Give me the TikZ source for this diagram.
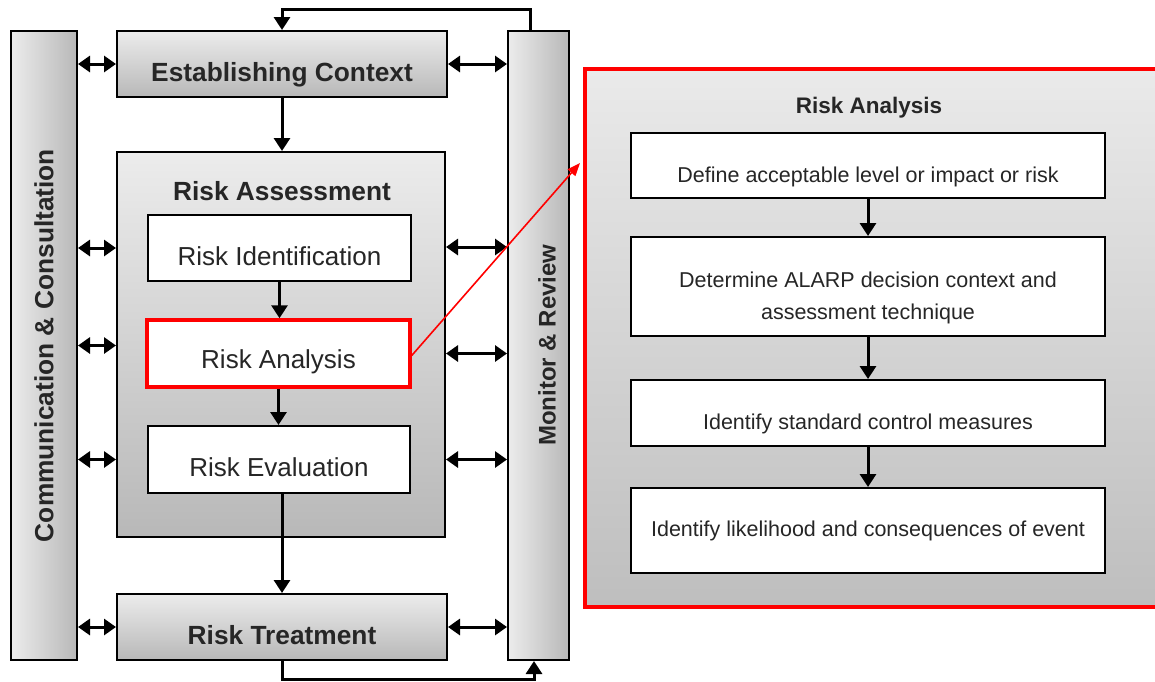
\documentclass[tikz,border=0pt]{standalone}
\usepackage{fontspec}
\setmainfont{Liberation Sans}
\usetikzlibrary{arrows.meta}
\definecolor{txt}{RGB}{38,38,38}
\definecolor{gtop}{RGB}{236,236,236}
\definecolor{gbot}{RGB}{184,184,184}
\definecolor{ptop}{RGB}{234,234,234}
\definecolor{pbot}{RGB}{190,190,190}
\definecolor{redc}{RGB}{255,0,0}
\newcommand{\low}[1]{\raisebox{-8pt}[\height][\depth]{#1}}
\newcommand{\lowb}[1]{\raisebox{-11pt}[\height][\depth]{#1}}
\tikzset{
  box/.style={draw=black, line width=2pt, inner sep=0pt, text=txt},
  gbox/.style={box, top color=gtop, bottom color=gbot},
  bar/.style={box, left color=gtop, right color=gbot},
  wbox/.style={box, fill=white},
  big/.style={font=\fontsize{26.3}{30}\selectfont\bfseries},
  mid/.style={font=\fontsize{26}{30}\selectfont},
  sml/.style={font=\fontsize{21.5}{32}\selectfont},
  arr/.style={line width=3pt, -{Triangle[length=13pt,width=16pt]}},
  dbl/.style={line width=3pt, {Triangle[length=12pt,width=16pt]}-{Triangle[length=12pt,width=16pt]}},
}
\begin{document}
\begin{tikzpicture}[x=1pt,y=-1pt]
\clip (0,0) rectangle (1155,681);
\useasboundingbox (0,0) rectangle (1155,681);
% bars
\node[bar, minimum width=66pt, minimum height=629pt] (cc) at (44,345.5) {};
\node[big, rotate=90, text=txt] (cct) at (cc.center) {Communication \& Consultation};
\node[bar, minimum width=61pt, minimum height=629pt] (mr) at (538.5,345.5) {};
\node[font=\fontsize{24}{28}\selectfont\bfseries, rotate=90, text=txt] (mrt) at (547,345) {Monitor \& Review};
% main column
\node[gbox, big, minimum width=330pt, minimum height=66pt] (ec) at (282,64) {\lowb{Establishing Context}};
\node[gbox, minimum width=328pt, minimum height=385pt] (ra) at (281,344.5) {};
\node[big, text=txt] (rat) at (282,191) {Risk Assessment};
\node[wbox, mid, minimum width=263pt, minimum height=66pt] (ri) at (279.5,248) {\low{Risk Identification}};
\node[wbox, mid, draw=redc, line width=3.5pt, minimum width=263pt, minimum height=67pt] (ran) at (278.5,353.5) {\low{Risk Analysis}};
\node[wbox, mid, minimum width=262pt, minimum height=67pt] (rev) at (279,459.5) {\low{Risk Evaluation}};
\node[gbox, big, minimum width=330pt, minimum height=66pt] (rt) at (282,627) {\low{Risk Treatment}};
% right panel
\node[draw=redc, line width=4pt, top color=ptop, bottom color=pbot, minimum width=590pt, minimum height=538pt, inner sep=0pt] (rp) at (880,338) {};
\node[font=\fontsize{22.5}{26}\selectfont\bfseries, text=txt] (rpt) at (869,108) {Risk Analysis};
\node[wbox, sml, minimum width=474pt, minimum height=65pt] (b1) at (868,165.5) {\lowb{Define acceptable level or impact or risk}};
\node[wbox, sml, minimum width=474pt, minimum height=99pt] (b2) at (868,286.5) {\lowb{\begin{tabular}{@{}c@{}}Determine ALARP decision context and\\[0pt] assessment technique\end{tabular}}};
\node[wbox, sml, minimum width=474pt, minimum height=66pt] (b3) at (868,413) {\lowb{Identify standard control measures}};
\node[wbox, sml, minimum width=474pt, minimum height=85pt] (b4) at (868,530.5) {Identify likelihood and consequences of event};
% vertical arrows
\draw[arr] (ec.south) -- (ec.south |- ra.north);
\draw[arr] (ri.south) -- (ri.south |- ran.north);
\draw[arr] (ran.south) -- (ran.south |- rev.north);
\draw[arr] ([xshift=3pt]rev.south) -- ([xshift=3pt]rev.south |- rt.north);
\draw[arr] (b1.south) -- (b2.north);
\draw[arr] (b2.south) -- (b3.north);
\draw[arr] (b3.south) -- (b4.north);
% feedback loops
\draw[arr] ([xshift=-8.5pt]mr.north) -- ++(0,-21) -| (ec.north);
\draw[arr] (rt.south) -- ++(0,18) -| ([xshift=-4.5pt]mr.south);
% double arrows left
\draw[dbl] (cc.east |- ec.west) -- (ec.west);
\draw[dbl] (cc.east |- ri.west) -- (ra.west |- ri.west);
\draw[dbl] ([yshift=8pt]cc.east |- ran.west) -- ([yshift=8pt]ra.west |- ran.west);
\draw[dbl] (cc.east |- rev.west) -- (ra.west |- rev.west);
\draw[dbl] (cc.east |- rt.west) -- (rt.west);
% double arrows right
\draw[dbl] (ec.east) -- (mr.west |- ec.east);
\draw[dbl] ([yshift=1pt]ra.east |- ri.east) -- ([yshift=1pt]mr.west |- ri.east);
\draw[dbl] (ra.east |- ran.east) -- (mr.west |- ran.east);
\draw[dbl] (ra.east |- rev.east) -- (mr.west |- rev.east);
\draw[dbl] (rt.east) -- (mr.west |- rt.east);
% red pointer
\coordinate (tip) at (580,163);
\draw[draw=redc, line width=1.6pt, -{Triangle[length=13pt,width=10pt]}] ([yshift=-2pt]ran.east) -- (tip);
\end{tikzpicture}
\end{document}
